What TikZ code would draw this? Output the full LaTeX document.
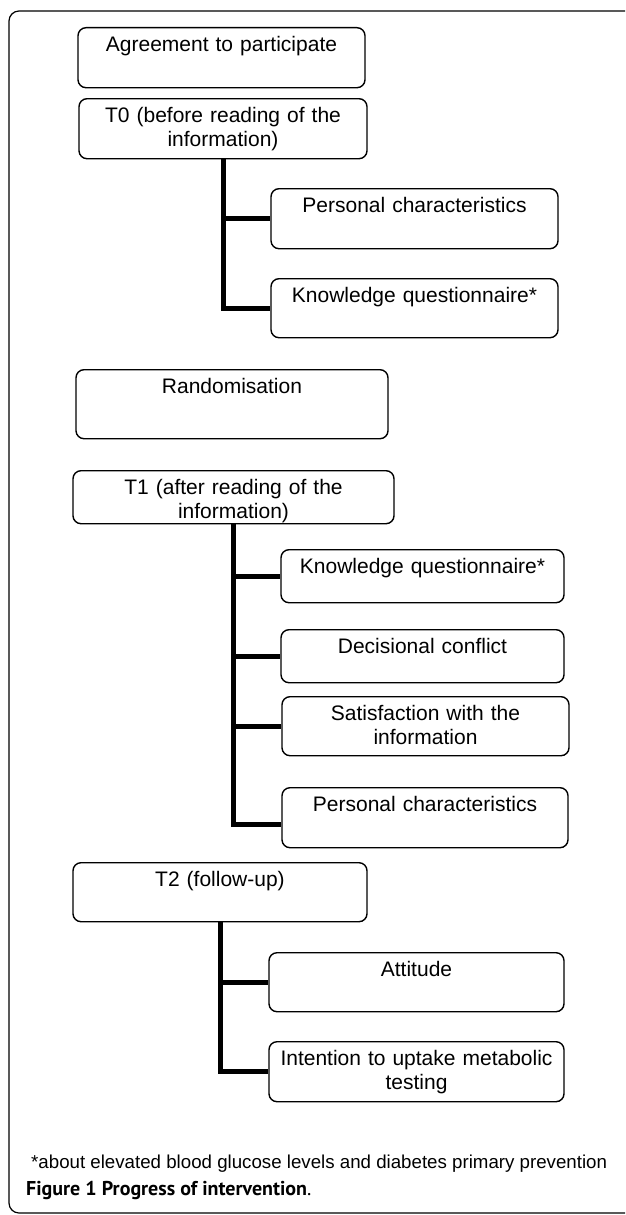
\documentclass[tikz,border=0pt]{standalone}
\usepackage{fontspec}
\setmainfont{Liberation Sans}
\newfontfamily\capfont{PT Sans}
\begin{document}
\begin{tikzpicture}[x=1pt,y=-1pt,
  box/.style={draw, line width=1.4pt, rounded corners=8pt, inner xsep=3pt, inner ysep=0pt,
    anchor=north, align=center, font=\fontsize{21}{24}\selectfont, text height=23.5pt},
  bw/.style 2 args={text width=#1, text depth=#2},
  conn/.style={line width=5pt},
  frame/.style={line width=1.2pt, rounded corners=10pt}]
\useasboundingbox (0,0) rectangle (625,1215);
\clip (0,0) rectangle (625,1215);
\draw[frame] (9,11) rectangle (660,1213);

\node[box, bw={281pt}{36.5pt}] (a) at (221.5,27) {Agreement to participate};
\node[box, bw={282pt}{36.5pt}] (t0) at (223,98) {T0 (before reading of the\\ information)};
\node[box, bw={281pt}{36.5pt}] (p0) at (414.5,188) {Personal characteristics};
\node[box, bw={281pt}{35.5pt}] (k0) at (414.5,278) {Knowledge questionnaire*};
\node[box, bw={306pt}{45.5pt}] (r) at (232,369) {Randomisation};
\node[box, bw={315pt}{29.5pt}] (t1) at (233.5,470) {T1 (after reading of the\\ information)};
\node[box, bw={277pt}{29.5pt}] (k1) at (422.5,549) {Knowledge questionnaire*};
\node[box, bw={277pt}{29.5pt}] (d) at (422.5,629) {Decisional conflict};
\node[box, bw={281pt}{35.5pt}] (s) at (425.5,696) {Satisfaction with the\\ information};
\node[box, bw={280pt}{36.5pt}] (p1) at (425,787) {Personal characteristics};
\node[box, bw={288pt}{35.5pt}] (t2) at (220,862) {T2 (follow-up)};
\node[box, bw={289pt}{35.5pt}] (att) at (416.5,952) {Attitude};
\node[box, bw={289pt}{36.5pt}] (int) at (416.5,1041) {Intention to uptake metabolic\\ testing};

\draw[conn] (t0.south) |- (k0.west);
\draw[conn] (t0.south |- p0.west) -- (p0.west);

\draw[conn] (t1.south) |- ([yshift=-7pt]p1.west);
\draw[conn] (t1.south |- k1.west) -- (k1.west);
\draw[conn] (t1.south |- d.west) -- (d.west);
\draw[conn] (t1.south |- s.west) -- (s.west);

\draw[conn] (t2.south) |- (int.west);
\draw[conn] (t2.south |- att.west) -- (att.west);

\node[anchor=base west, inner sep=0pt, font=\fontsize{18.7}{21}\selectfont] (fn) at (31,1168)
  {*about elevated blood glucose levels and diabetes primary prevention};
\node[anchor=base west, inner sep=0pt, font=\capfont\fontsize{20}{23}\selectfont] (cap) at (26,1195)
  {\textbf{Figure 1 Progress of intervention}.};
\end{tikzpicture}
\end{document}
